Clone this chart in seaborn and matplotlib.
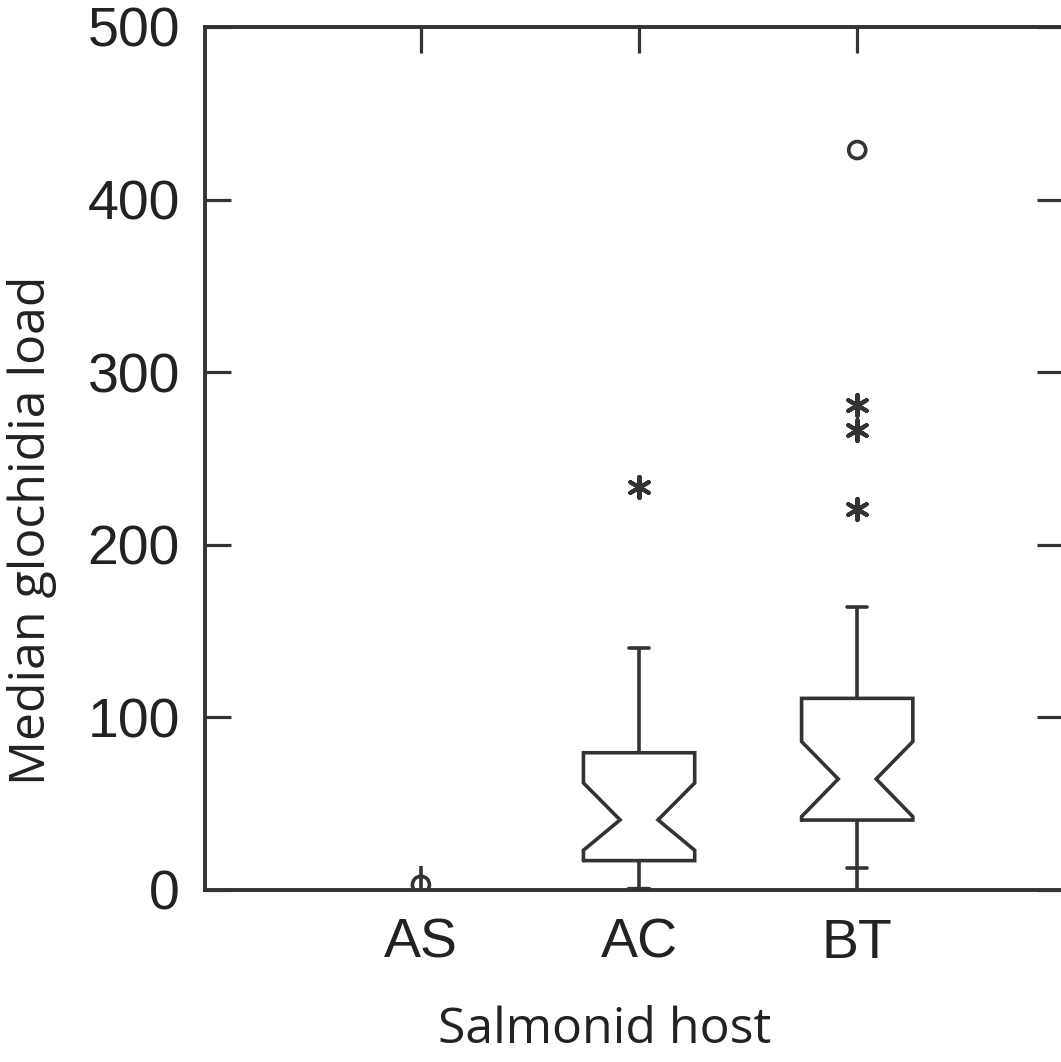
import numpy as np
import pandas as pd
import matplotlib
matplotlib.use("Agg")
import matplotlib.pyplot as plt
import seaborn as sns

# Summary statistics per salmonid host
hosts = ["AS", "AC", "BT"]
q1 = [0.0, 17.0, 40.5]
median = [0.0, 40.6, 64.3]
q3 = [0.0, 79.5, 111.0]
notch_lo = [0.0, 23.0, 42.5]
notch_hi = [0.0, 62.0, 86.0]
whisker_lo = [0.0, 0.0, 0.0]
whisker_hi = [14.0, 140.0, 164.0]
cap_lo = [np.nan, 0.0, 13.0]
cap_hi = [np.nan, 140.0, 164.0]

# Outside values (asterisks) and far outside values (circles)
outside_host = ["AC", "BT", "BT", "BT"]
outside_val = [233.5, 281.0, 266.5, 221.0]
far_host = ["AS", "BT"]
far_val = [3.0, 428.7]

sns.set_style("white")
plt.rcParams["font.family"] = ["Liberation Sans", "DejaVu Sans"]

ink = "#333333"
fig = plt.figure(figsize=(10.61, 10.62), dpi=100)
ax = fig.add_axes([0.1932, 0.162, 0.809, 0.8126])

pos = {h: i for i, h in enumerate(hosts)}
box_w = 0.51
notch_w = 0.087
cap_w = 0.046
lw_box = 2.6

for i, h in enumerate(hosts):
    x = pos[h]
    # whiskers
    ax.plot([x, x], [q3[i], whisker_hi[i]], color=ink, lw=lw_box, solid_capstyle="butt", zorder=3)
    ax.plot([x, x], [whisker_lo[i], q1[i]], color=ink, lw=lw_box, solid_capstyle="butt", zorder=3)
    if not np.isnan(cap_hi[i]):
        ax.plot([x - cap_w, x + cap_w], [cap_hi[i]] * 2, color=ink, lw=lw_box, zorder=3)
    if not np.isnan(cap_lo[i]):
        lw = 4.5 if cap_lo[i] == 0 else lw_box
        ax.plot([x - cap_w, x + cap_w], [cap_lo[i]] * 2, color=ink, lw=lw, zorder=3)
    # notched box outline
    if q3[i] > q1[i]:
        l, r = x - box_w / 2, x + box_w / 2
        xs = [l, r, r, x + notch_w, r, r, l, l, x - notch_w, l, l]
        ys = [q1[i], q1[i], notch_lo[i], median[i], notch_hi[i], q3[i], q3[i],
              notch_hi[i], median[i], notch_lo[i], q1[i]]
        ax.plot(xs, ys, color=ink, lw=lw_box, solid_joinstyle="miter", zorder=3)

out_df = pd.DataFrame({"host": [pos[h] for h in outside_host], "load": outside_val})
far_df = pd.DataFrame({"host": [pos[h] for h in far_host], "load": far_val})

sns.scatterplot(data=out_df, x="host", y="load", ax=ax, marker=(6, 2, 0),
                s=230, color=ink, linewidth=3.0, zorder=4, legend=False)
sns.scatterplot(data=far_df, x="host", y="load", ax=ax, marker="o",
                s=150, color=ink, facecolors="none", edgecolor=ink,
                linewidth=2.6, zorder=4, legend=False)

ax.set_xlim(-0.99, 2.945)
ax.set_ylim(0, 500)
ax.set_xticks(range(len(hosts)))
ax.set_xticklabels(hosts)
ax.set_yticks([0, 100, 200, 300, 400, 500])

for sp in ax.spines.values():
    sp.set_visible(True)
    sp.set_color(ink)
    sp.set_linewidth(2.8)

ax.tick_params(axis="y", which="both", direction="in", length=19, width=2.3,
               color=ink, left=True, right=True, labelsize=40, pad=18,
               labelcolor="#222222")
ax.tick_params(axis="x", which="both", direction="in", length=19, width=2.3,
               color=ink, bottom=False, top=True, labelsize=40, pad=20,
               labelcolor="#222222")

label_font = dict(family=["Open Sans", "DejaVu Sans"], size=36, color="#222222")
ax.set_xlabel("Salmonid host", va="top", **label_font)
ax.set_ylabel("Median glochidia load", va="center", **label_font)
ax.xaxis.set_label_coords(0.466, -0.134)
ax.yaxis.set_label_coords(-0.2016, 0.417)

fig.savefig("out.png", dpi=100)
